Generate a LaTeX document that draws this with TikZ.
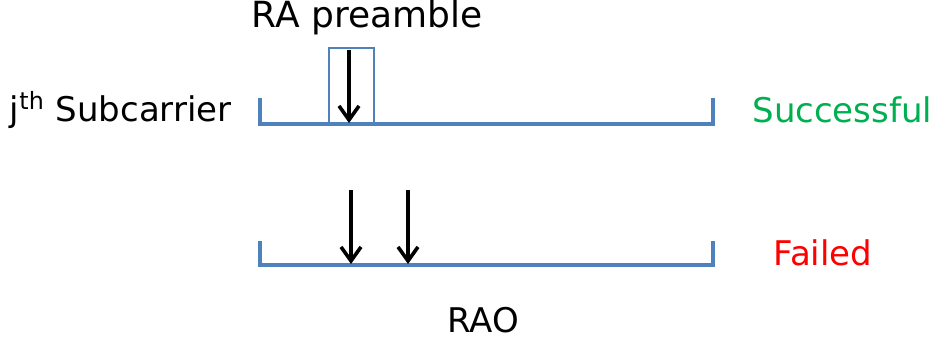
\documentclass[tikz,border=0pt]{standalone}
\usepackage{fontspec}
\setmainfont{DejaVu Sans}
\usetikzlibrary{arrows.meta, positioning}
\definecolor{linea}{RGB}{79,129,189}
\definecolor{verde}{RGB}{0,176,80}
\definecolor{rojo}{RGB}{255,0,0}

\begin{document}
\begin{tikzpicture}[
        x=0.5pt, y=-0.5pt,
        texto/.style={inner sep=0pt, font=\fontsize{17}{20}\selectfont},
        eje/.style={draw=linea, line width=2pt},
        flecha/.style={-{Straight Barb[length=7pt, width=10pt, line width=1.8pt]}, line width=1.6pt, black}
    ]
        \useasboundingbox (0,0) rectangle (936,338);
        % ejes
        \coordinate (a0) at (260,98);
        \coordinate (a1) at (260,124);
        \coordinate (a2) at (713,124);
        \coordinate (a3) at (713,98);
        \coordinate (b0) at (260,241);
        \coordinate (b1) at (260,265);
        \coordinate (b2) at (713,265);
        \coordinate (b3) at (713,241);
        \draw[eje] (a0) -- (a1) -- (a2) -- (a3);
        \draw[eje] (b0) -- (b1) -- (b2) -- (b3);
        % preambulo
        \node[draw=linea, line width=0.6pt, minimum width=22.5pt, minimum height=38pt, inner sep=0pt] (caja) at (351.5,86) {};
        \coordinate (p0) at (349,50);
        \coordinate (p1) at (349,123);
        \draw[flecha] (p0) -- (p1);
        \coordinate (q0) at (351,190);
        \coordinate (q1) at (351,264);
        \coordinate (r0) at (408,190);
        \coordinate (r1) at (408,264);
        \draw[flecha] (q0) -- (q1);
        \draw[flecha] (r0) -- (r1);
        % textos
        \node[texto, font=\fontsize{18}{21}\selectfont] (ra) at (367,18) {RA preamble};
        \node[texto, anchor=east] (sub) at (232,110) {j\textsuperscript{th} Subcarrier};
        \node[texto, text=verde, anchor=west] (ok) at (752,110) {Successful};
        \node[texto, text=rojo] (mal) at (823,253) {Failed};
        \node[texto] (rao) at (483,320) {RAO};
    \end{tikzpicture}
\end{document}
